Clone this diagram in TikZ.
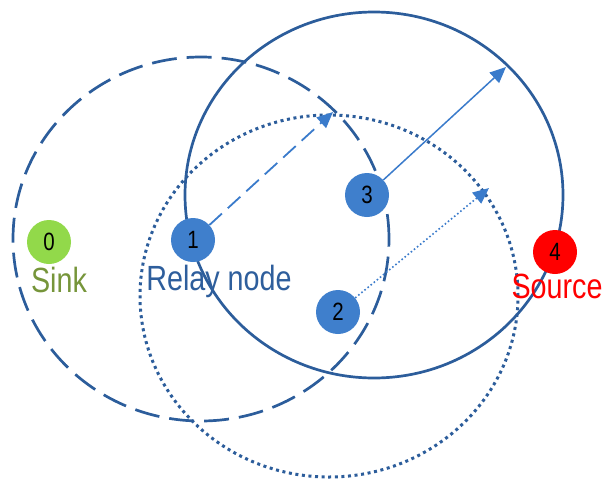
\documentclass[tikz,border=0pt]{standalone}
\usepackage{fontspec}
\setmainfont{Liberation Sans}[FakeStretch=0.82]
\usetikzlibrary{arrows.meta}
\definecolor{ringblue}{HTML}{2C5D9B}
\definecolor{nodeblue}{HTML}{3F7FCC}
\definecolor{arrowblue}{HTML}{3A7BCB}
\definecolor{sinkgreen}{HTML}{92D94A}
\definecolor{sinktext}{HTML}{76953A}
\definecolor{relaytext}{HTML}{2E5E9C}

\begin{document}
\begin{tikzpicture}[x = 1pt, y = -1pt,
    ring/.style = {ringblue, line width = 2.7pt},
    sensor/.style = {circle, minimum size = 44pt, inner sep = 0pt,
      font = \fontsize{25}{25}\selectfont},
    tag/.style = {anchor = base, inner sep = 0pt, font = \fontsize{35}{35}\selectfont},
    reach/.style = {arrowblue, -{Triangle[length = 16pt, width = 14pt]}}]
    \useasboundingbox (0,0) rectangle (612,482);
    % transmission ranges
    \draw [ring, dash pattern = on 25pt off 10pt] (201,239) ellipse [x radius = 188pt, y radius = 182pt];
    \draw [ring] (374,195) ellipse [x radius = 189pt, y radius = 183pt];
    \draw [ring, line width = 3pt, dash pattern = on 3pt off 3.6pt] (329,296) ellipse [x radius = 189pt, y radius = 181pt];
    \node [tag, sinktext] (sink) at (59,292) {Sink};
    \node [tag, relaytext] (relay) at (219,290) {Relay node};
    \node [tag, red] (source) at (557,298) {Source};
    \coordinate (t1) at (333,112);
    \coordinate (t2) at (489,188);
    \coordinate (t3) at (506,67);
    \node [sensor, fill = sinkgreen] (n0) at (49,242) {0};
    \node [sensor, fill = nodeblue] (n1) at (193,240) {1};
    \node [sensor, fill = nodeblue] (n2) at (338,312) {2};
    \node [sensor, fill = nodeblue] (n3) at (367,195) {3};
    \node [sensor, fill = red] (n4) at (555,252) {4};
    \draw [reach, line width = 1.8pt, dash pattern = on 17pt off 8pt] (n1) -- (t1);
    \draw [reach, line width = 1.6pt, dash pattern = on 1.6pt off 2.4pt] (n2) -- (t2);
    \draw [reach, line width = 1.5pt] (n3) -- (t3);
\end{tikzpicture}
\end{document}
